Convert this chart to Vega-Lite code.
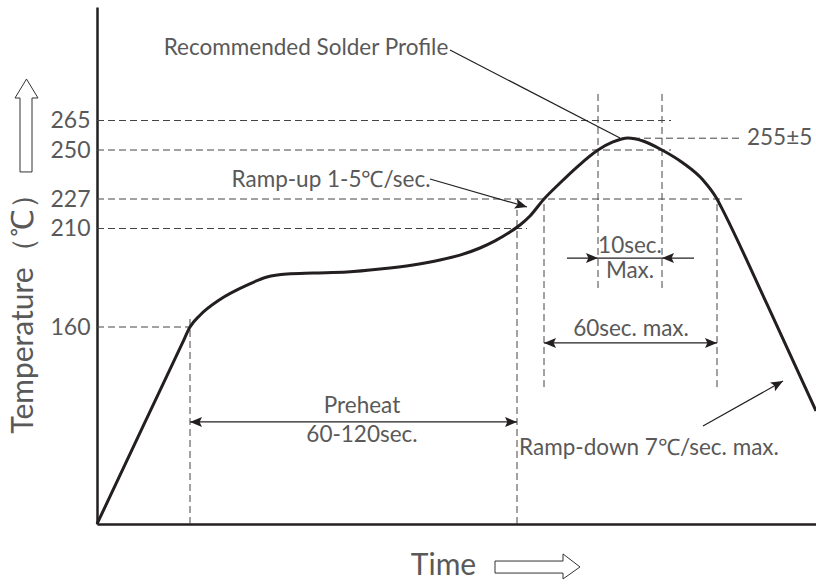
{
  "$schema": "https://vega.github.io/schema/vega-lite/v6.json",
  "width": 719,
  "height": 517,
  "autosize": "none",
  "padding": {"left": 97, "top": 7, "right": 0, "bottom": 61},
  "background": "white",
  "config": {"view": {"stroke": null}, "font": "Lato"},
  "datasets": {
    "curve": [
      {"x": 0, "t": 60}, {"x": 46, "t": 109.5}, {"x": 85, "t": 151.4}, {"x": 93, "t": 160}, {"x": 103, "t": 166.0}, {"x": 123, "t": 174.0},
      {"x": 150, "t": 181.3}, {"x": 170, "t": 185.4}, {"x": 190, "t": 186.9}, {"x": 216, "t": 187.4},
      {"x": 250, "t": 187.9}, {"x": 283, "t": 189.4}, {"x": 316, "t": 191.5}, {"x": 343, "t": 194.0},
      {"x": 363, "t": 196.5}, {"x": 383, "t": 200.1}, {"x": 398, "t": 203.7}, {"x": 413, "t": 208.2}, {"x": 423, "t": 212.0},
      {"x": 433, "t": 217.2}, {"x": 447, "t": 227}, {"x": 463, "t": 234.5}, {"x": 480, "t": 242.0},
      {"x": 501, "t": 250}, {"x": 516, "t": 254.1}, {"x": 531, "t": 256.1}, {"x": 546, "t": 254.6},
      {"x": 565, "t": 250}, {"x": 586, "t": 243.9}, {"x": 606, "t": 235.9}, {"x": 620, "t": 227},
      {"x": 624, "t": 222.6}, {"x": 670, "t": 171.6}, {"x": 719, "t": 117.4}
    ],
    "dashes": [
      {"x": 0, "x2": 574, "t": 265, "t2": 265},
      {"x": 0, "x2": 574, "t": 250, "t2": 250},
      {"x": 536, "x2": 643, "t": 256, "t2": 256},
      {"x": 0, "x2": 648, "t": 227, "t2": 227},
      {"x": 0, "x2": 430, "t": 210, "t2": 210},
      {"x": 0, "x2": 93, "t": 160, "t2": 160},
      {"x": 93, "x2": 93, "t": 60, "t2": 165.6},
      {"x": 420, "x2": 420, "t": 60, "t2": 220.7},
      {"x": 447, "x2": 447, "t": 129.5, "t2": 227},
      {"x": 501, "x2": 501, "t": 179.8, "t2": 279.4},
      {"x": 565, "x2": 565, "t": 179.8, "t2": 279.4},
      {"x": 620, "x2": 620, "t": 129.5, "t2": 227}
    ],
    "solids": [
      {"x": 93, "x2": 420, "t": 111.8, "t2": 111.8},
      {"x": 447, "x2": 620, "t": 151.9, "t2": 151.9},
      {"x": 470, "x2": 597, "t": 195.0, "t2": 195.0},
      {"x": 353, "x2": 523, "t": 300.7, "t2": 256.1},
      {"x": 333, "x2": 430, "t": 236.4, "t2": 222.4},
      {"x": 606, "x2": 686, "t": 109.7, "t2": 132.6}
    ],
    "heads": [
      {"x": 420, "t": 111.8, "dir": "right"},
      {"x": 620, "t": 151.9, "dir": "right"},
      {"x": 501, "t": 195.0, "dir": "right"},
      {"x": 93, "t": 111.8, "dir": "left"},
      {"x": 447, "t": 151.9, "dir": "left"},
      {"x": 565, "t": 195.0, "dir": "left"},
      {"x": 430, "t": 222.4, "dir": "rampup"},
      {"x": 686, "t": 132.6, "dir": "rampdown"}
    ],
    "labels": [
      {"x": 209, "t": 301.7, "label": "Recommended Solder Profile"},
      {"x": 234, "t": 236.0, "label": "Ramp-up 1-5℃/sec."},
      {"x": 533, "t": 201.1, "label": "10sec."},
      {"x": 533, "t": 188.4, "label": "Max."},
      {"x": 534, "t": 159.0, "label": "60sec. max."},
      {"x": 265, "t": 119.9, "label": "Preheat"},
      {"x": 265, "t": 105.2, "label": "60-120sec."},
      {"x": 552, "t": 98.6, "label": "Ramp-down 7℃/sec. max."}
    ],
    "leftlabels": [
      {"x": 650, "t": 256, "label": "255±5"}
    ],
    "hollow": [
      {"arrow": "up", "i": 0, "x": -77, "t": 239.7},
      {"arrow": "up", "i": 1, "x": -77, "t": 276.4},
      {"arrow": "up", "i": 2, "x": -82, "t": 276.4},
      {"arrow": "up", "i": 3, "x": -70.5, "t": 286.0},
      {"arrow": "up", "i": 4, "x": -59, "t": 276.4},
      {"arrow": "up", "i": 5, "x": -65, "t": 276.4},
      {"arrow": "up", "i": 6, "x": -65, "t": 239.7},
      {"arrow": "up", "i": 7, "x": -77, "t": 239.7},
      {"arrow": "right", "i": 0, "x": 398, "t": 41.2},
      {"arrow": "right", "i": 1, "x": 466, "t": 41.2},
      {"arrow": "right", "i": 2, "x": 466, "t": 44.8},
      {"arrow": "right", "i": 3, "x": 483, "t": 38.2},
      {"arrow": "right", "i": 4, "x": 466, "t": 32.1},
      {"arrow": "right", "i": 5, "x": 466, "t": 35.1},
      {"arrow": "right", "i": 6, "x": 398, "t": 35.1},
      {"arrow": "right", "i": 7, "x": 398, "t": 41.2}
    ]
  },
  "layer": [
    {
      "data": {"name": "dashes"},
      "mark": {"type": "rule", "color": "#444444", "strokeWidth": 1, "strokeDash": [7, 4]},
      "encoding": {
        "x": {"field": "x", "type": "quantitative",
          "scale": {"domain": [0, 719], "nice": false, "zero": false},
          "axis": {"title": "Time", "labels": false, "ticks": false, "grid": false, "domain": true,
            "domainColor": "#231f20", "domainWidth": 2.5,
            "titleFont": "Lato", "titleFontSize": 30, "titleFontWeight": "normal", "titleColor": "#595959",
            "titleX": 346, "titleY": 41, "titleBaseline": "middle", "titleAlign": "center"}},
        "x2": {"field": "x2"},
        "y": {"field": "t", "type": "quantitative",
          "scale": {"domain": [60, 160, 210, 227, 250, 265, 322.5], "range": [517, 320, 221.5, 192, 143, 113.5, 0], "nice": false, "zero": false},
          "axis": {"title": "Temperature（℃）", "values": [160, 210, 227, 250, 265], "ticks": false, "grid": false,
            "domain": true, "domainColor": "#231f20", "domainWidth": 2.5,
            "labelFont": "Lato", "labelFontSize": 23, "labelColor": "#595959", "labelPadding": 7,
            "titleFont": "Lato", "titleFontSize": 30, "titleFontWeight": "normal", "titleColor": "#595959",
            "titleX": -74, "titleY": 299, "titleAngle": 270, "titleBaseline": "middle", "titleAlign": "center"}},
        "y2": {"field": "t2"}
      }
    },
    {
      "data": {"name": "solids"},
      "mark": {"type": "rule", "color": "#231f20", "strokeWidth": 1.2},
      "encoding": {
        "x": {"field": "x", "type": "quantitative"},
        "x2": {"field": "x2"},
        "y": {"field": "t", "type": "quantitative"},
        "y2": {"field": "t2"}
      }
    },
    {
      "mark": {"type": "rule", "color": "#231f20", "strokeWidth": 2.5},
      "encoding": {"y": {"datum": 322.5, "type": "quantitative"}}
    },
    {
      "data": {"name": "curve"},
      "mark": {"type": "line", "color": "#231f20", "strokeWidth": 3, "interpolate": "monotone"},
      "encoding": {
        "x": {"field": "x", "type": "quantitative"},
        "y": {"field": "t", "type": "quantitative"}
      }
    },
    {
      "data": {"name": "heads"},
      "transform": [{"filter": "datum.dir == 'right'"}],
      "mark": {"type": "point", "shape": "M0,0L-1,-0.42L-0.8,0L-1,0.42Z", "size": 576, "filled": true, "color": "#231f20", "opacity": 1, "angle": 0},
      "encoding": {"x": {"field": "x", "type": "quantitative"}, "y": {"field": "t", "type": "quantitative"}}
    },
    {
      "data": {"name": "heads"},
      "transform": [{"filter": "datum.dir == 'left'"}],
      "mark": {"type": "point", "shape": "M0,0L-1,-0.42L-0.8,0L-1,0.42Z", "size": 576, "filled": true, "color": "#231f20", "opacity": 1, "angle": 180},
      "encoding": {"x": {"field": "x", "type": "quantitative"}, "y": {"field": "t", "type": "quantitative"}}
    },
    {
      "data": {"name": "heads"},
      "transform": [{"filter": "datum.dir == 'rampup'"}],
      "mark": {"type": "point", "shape": "M0,0L-1,-0.42L-0.8,0L-1,0.42Z", "size": 576, "filled": true, "color": "#231f20", "opacity": 1, "angle": 16},
      "encoding": {"x": {"field": "x", "type": "quantitative"}, "y": {"field": "t", "type": "quantitative"}}
    },
    {
      "data": {"name": "heads"},
      "transform": [{"filter": "datum.dir == 'rampdown'"}],
      "mark": {"type": "point", "shape": "M0,0L-1,-0.42L-0.8,0L-1,0.42Z", "size": 576, "filled": true, "color": "#231f20", "opacity": 1, "angle": 330.6},
      "encoding": {"x": {"field": "x", "type": "quantitative"}, "y": {"field": "t", "type": "quantitative"}}
    },
    {
      "data": {"name": "labels"},
      "mark": {"type": "text", "font": "Lato", "fontSize": 22.5, "color": "#595959", "align": "center", "baseline": "middle"},
      "encoding": {"x": {"field": "x", "type": "quantitative"}, "y": {"field": "t", "type": "quantitative"}, "text": {"field": "label"}}
    },
    {
      "data": {"name": "leftlabels"},
      "mark": {"type": "text", "font": "Lato", "fontSize": 22.5, "color": "#595959", "align": "left", "baseline": "middle"},
      "encoding": {"x": {"field": "x", "type": "quantitative"}, "y": {"field": "t", "type": "quantitative"}, "text": {"field": "label"}}
    },
    {
      "data": {"name": "hollow"},
      "mark": {"type": "line", "color": "#333333", "strokeWidth": 1, "interpolate": "linear"},
      "encoding": {
        "x": {"field": "x", "type": "quantitative"},
        "y": {"field": "t", "type": "quantitative"},
        "detail": {"field": "arrow"},
        "order": {"field": "i"}
      }
    }
  ]
}
